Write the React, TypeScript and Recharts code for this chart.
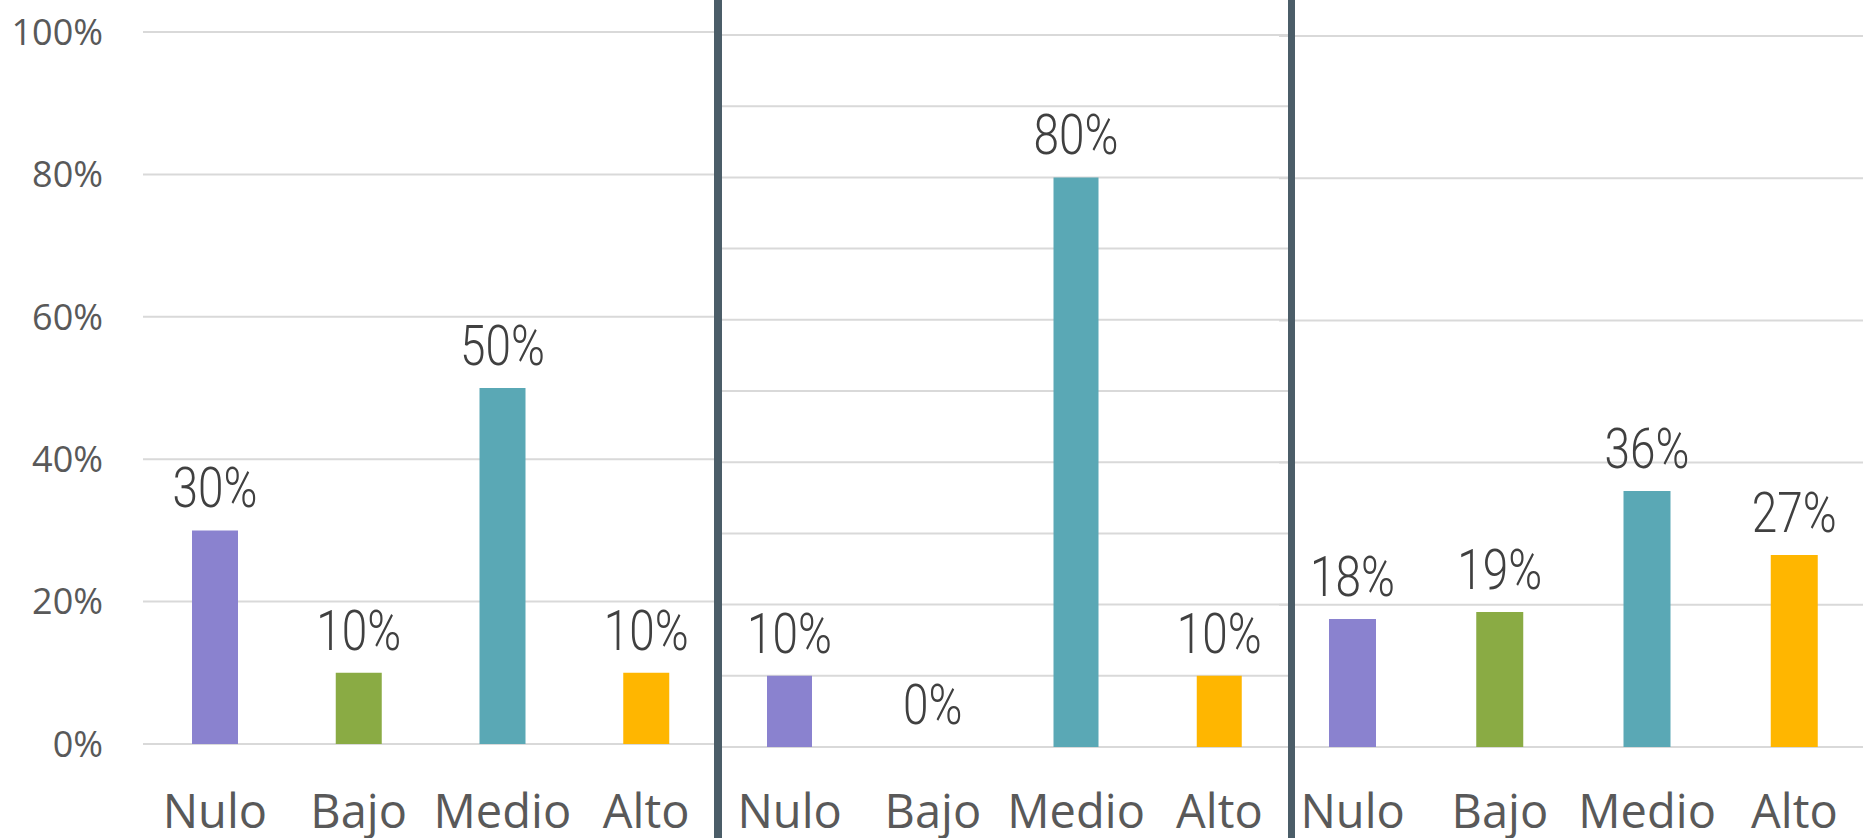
import React from 'react';
import { BarChart, Bar, XAxis, YAxis, CartesianGrid, LabelList, Cell } from 'recharts';

const categories = ['Nulo', 'Bajo', 'Medio', 'Alto'];
const barColors = ['#8a82cf', '#8aab44', '#5aa8b5', '#ffb600'];

const panel1Values = [30, 10, 50, 10];
const panel2Values = [10, 0, 80, 10];
const panel3Values = [18, 19, 36, 27];

const ticks20 = [0, 20, 40, 60, 80, 100];
const ticks10 = [0, 10, 20, 30, 40, 50, 60, 70, 80, 90, 100];

const toRows = (values: number[]) => categories.map((name, i) => ({ name, value: values[i] }));

// narrow, tall data labels like the source
const TopLabel = (props: any) => {
  const { x, y, width, value } = props;
  const cx = x + width / 2;
  return (
    <text
      transform={`translate(${cx}, ${y - 23}) scale(0.82, 1)`}
      x={0}
      y={0}
      textAnchor="middle"
      fontFamily="Roboto, sans-serif"
      fontWeight={300}
      fontSize={56}
      fill="#404040"
    >
      {value}%
    </text>
  );
};

const NoTick = () => <g />;

interface PanelProps {
  values: number[];
  ticks: number[];
  left: number;
  width: number;
  top: number;
  axisHeight: number;
  tickGap: number;
  barSize: number;
  showY?: boolean;
  yWidth?: number;
}

const Panel: React.FC<PanelProps> = ({ values, ticks, left, width, top, axisHeight, tickGap, barSize, showY, yWidth = 0 }) => (
  <div style={{ position: 'absolute', left, top: 0 }}>
    <BarChart width={width} height={838} data={toRows(values)} margin={{ top, right: 0, bottom: 0, left: 0 }}>
      <CartesianGrid vertical={false} stroke="#d9d9d9" strokeWidth={2} />
      <XAxis
        dataKey="name"
        axisLine={false}
        tickLine={false}
        tickSize={0}
        tickMargin={tickGap}
        height={axisHeight}
        interval={0}
        tick={{ fontFamily: "'Open Sans', sans-serif", fontSize: 47, fill: '#595959' }}
      />
      <YAxis
        domain={[0, 100]}
        ticks={ticks}
        interval={0}
        width={yWidth}
        axisLine={false}
        tickLine={false}
        tickSize={0}
        tickMargin={40}
        tick={showY ? { fontFamily: "'Open Sans', sans-serif", fontSize: 36, fill: '#595959' } : NoTick}
        tickFormatter={(v) => `${v}%`}
      />
      <Bar dataKey="value" barSize={barSize} minPointSize={0.01} isAnimationActive={false}>
        {values.map((_, i) => (
          <Cell key={i} fill={barColors[i]} />
        ))}
        <LabelList dataKey="value" content={TopLabel} />
      </Bar>
    </BarChart>
  </div>
);

export default function App() {
  return (
    <div style={{ position: 'absolute', left: 0, top: 0, width: 1863, height: 838, overflow: 'hidden', background: '#fff' }}>
      <Panel values={panel1Values} ticks={ticks20} left={0} width={718} top={32} axisHeight={94} tickGap={51} barSize={46} showY yWidth={143} />
      <Panel values={panel2Values} ticks={ticks10} left={718} width={573} top={35} axisHeight={91} tickGap={48} barSize={45} />
      <Panel values={panel3Values} ticks={ticks20} left={1279} width={589} top={36} axisHeight={91} tickGap={48} barSize={47} />
      <div style={{ position: 'absolute', left: 714, top: 0, width: 8, height: 838, background: '#4b5d68' }} />
      <div style={{ position: 'absolute', left: 1288, top: 0, width: 7, height: 838, background: '#4b5d68' }} />
    </div>
  );
}
